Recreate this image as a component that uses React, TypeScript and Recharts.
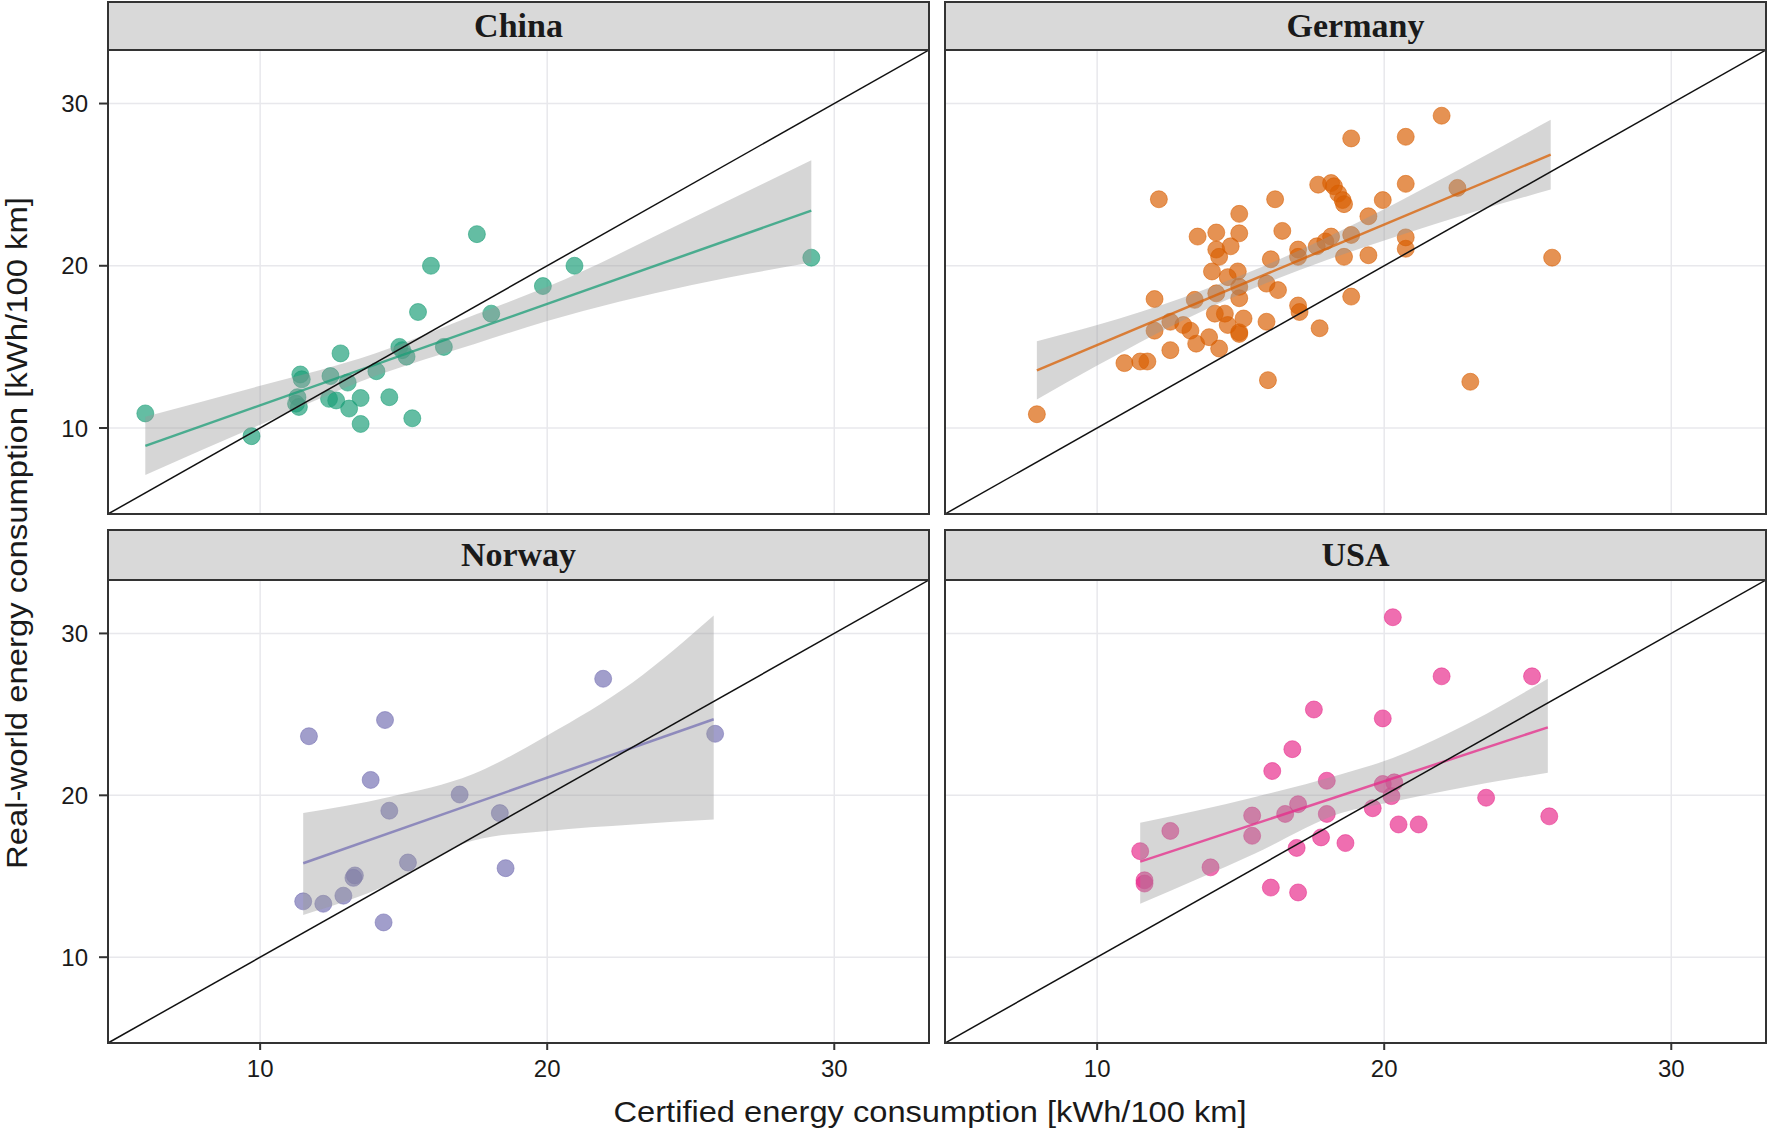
import React from "react";
import {
  ComposedChart,
  Scatter,
  Area,
  Line,
  XAxis,
  YAxis,
  CartesianGrid,
  ReferenceLine,
} from "recharts";

// axis range shared by all four facets (same on x and y)
const axisDomain: [number, number] = [4.7, 33.3];
const axisTicks = [10, 20, 30];

const countries = ["China", "Germany", "Norway", "USA"];
const countryColors = ["#1b9e77", "#d95f02", "#7570b3", "#e7298a"];

// [certified, real-world] kWh/100 km
const chinaPoints = [
  [6.0, 10.9], [9.7, 9.5], [11.4, 13.3], [11.45, 13.0], [11.3, 11.9], [11.25, 11.5],
  [11.35, 11.3], [12.45, 13.2], [12.8, 14.6], [13.05, 12.8], [12.4, 11.8], [12.65, 11.7],
  [13.1, 11.2], [13.5, 11.85], [13.5, 10.25], [14.05, 13.5], [14.5, 11.9], [15.3, 10.6],
  [14.85, 15.0], [14.95, 14.8], [15.1, 14.4], [15.5, 17.15], [15.95, 20.0], [16.4, 15.0],
  [17.55, 21.95], [18.05, 17.05], [19.85, 18.75], [20.95, 20.0], [29.2, 20.5],
];

const germanyPoints = [
  [7.9, 10.85], [12.15, 24.1], [10.95, 14.0], [11.5, 14.1], [11.75, 14.1], [12.0, 17.95],
  [12.0, 16.0], [12.55, 14.8], [12.55, 16.55], [13.0, 16.35], [13.4, 17.9], [13.5, 21.8],
  [13.45, 15.2], [13.25, 16.0], [13.9, 15.6], [14.0, 19.65], [14.15, 22.05], [14.15, 21.0],
  [14.25, 20.55], [14.25, 14.9], [14.1, 17.05], [14.15, 18.3], [14.45, 17.05], [14.55, 19.3],
  [14.65, 21.2], [14.95, 23.2], [14.95, 22.0], [14.9, 19.65], [14.95, 18.7], [14.95, 18.0],
  [14.55, 16.35], [14.95, 15.9], [15.1, 16.75], [14.95, 15.8], [15.9, 16.55], [15.9, 18.9],
  [16.05, 20.4], [16.2, 24.1], [15.95, 12.95], [16.3, 18.5], [16.45, 22.15], [17.0, 21.0],
  [17.0, 20.55], [17.0, 17.55], [17.05, 17.15], [17.75, 16.15], [17.7, 25.0], [18.15, 25.1],
  [18.25, 24.9], [18.4, 24.45], [18.55, 24.05], [18.6, 23.8], [17.95, 21.5], [18.15, 21.8],
  [17.65, 21.2], [18.6, 20.55], [18.85, 21.9], [18.85, 18.1], [18.85, 27.85], [19.45, 23.05],
  [19.45, 20.65], [19.95, 24.05], [20.75, 27.95], [20.75, 25.05], [20.75, 21.75], [20.75, 21.05],
  [22.0, 29.25], [22.55, 24.8], [23.0, 12.85], [25.85, 20.5],
];

const norwayPoints = [
  [11.7, 23.65], [14.35, 24.65], [13.85, 20.95], [14.5, 19.05], [16.95, 20.05], [18.35, 18.9],
  [18.55, 15.5], [15.15, 15.85], [13.25, 14.9], [13.3, 15.05], [12.9, 13.8], [12.2, 13.3],
  [11.5, 13.45], [14.3, 12.15], [21.95, 27.2], [25.85, 23.8],
];

const usaPoints = [
  [20.3, 31.0], [22.0, 27.35], [25.15, 27.35], [17.55, 25.3], [19.95, 24.75], [16.8, 22.85],
  [16.1, 21.5], [18.0, 20.9], [19.95, 20.7], [20.35, 20.8], [20.25, 19.95], [23.55, 19.85],
  [25.75, 18.7], [17.0, 19.45], [16.55, 18.85], [15.4, 18.75], [18.0, 18.85], [19.6, 19.2],
  [20.5, 18.2], [21.2, 18.2], [12.55, 17.8], [15.4, 17.5], [17.8, 17.4], [18.65, 17.05],
  [16.95, 16.75], [11.5, 16.55], [11.65, 14.75], [11.65, 14.55], [13.95, 15.55], [16.05, 14.3],
  [17.0, 14.0],
];

// linear fit end points and confidence band
const chinaBandX = [6.0, 10, 14, 17.5, 20, 25, 29.2];
const chinaBandLo = [7.1, 10.2, 13.2, 15.2, 16.6, 18.8, 20.2];
const chinaBandHi = [10.7, 12.6, 14.6, 17.0, 18.7, 22.9, 26.5];
const chinaFit = [8.9, 23.4];

const germanyBandX = [7.9, 10, 13, 15.5, 18, 20.5, 23, 25.8];
const germanyBandLo = [11.75, 13.85, 16.65, 18.65, 20.35, 21.85, 23.25, 24.7];
const germanyBandHi = [15.35, 16.35, 18.05, 19.75, 21.75, 23.95, 26.3, 29.0];
const germanyFit = [13.55, 26.85];

const norwayBandX = [11.5, 14.5, 17.4, 20, 23, 25.8];
const norwayBandLo = [12.6, 14.5, 17.2, 17.8, 18.2, 18.5];
const norwayBandHi = [18.9, 19.9, 21.3, 23.7, 27.0, 31.1];
const norwayFit = [15.8, 24.7];

const usaBandX = [11.5, 15.5, 18.5, 20.3, 22.2, 25.7];
const usaBandLo = [13.3, 16.4, 18.9, 19.6, 20.3, 21.4];
const usaBandHi = [18.3, 19.9, 21.3, 22.3, 23.8, 27.2];
const usaFit = [15.9, 24.2];

const SANS = "'Liberation Sans', Arial, sans-serif";
const SERIF = "'Liberation Serif', 'Times New Roman', serif";

const LEFT_X = 108;
const RIGHT_X = 945;
const PLOT_W = 821;
const AXIS_W = 108;
const TOP_Y = 50;
const TOP_H = 464;
const BOTTOM_Y = 580;
const BOTTOM_H = 463;
const X_AXIS_H = 70;

type PanelProps = {
  idx: number;
  points: number[][];
  bandX: number[];
  bandLo: number[];
  bandHi: number[];
  fit: number[];
  left: number;
  top: number;
  plotH: number;
  showX: boolean;
  showY: boolean;
};

function Panel({ idx, points, bandX, bandLo, bandHi, fit, left, top, plotH, showX, showY }: PanelProps) {
  const color = countryColors[idx];
  const scatterData = points.map(([x, y]) => ({ x, y }));
  const last = bandX.length - 1;
  const rows = bandX.map((x, i) => ({
    x,
    band: [bandLo[i], bandHi[i]],
    fit: i === 0 ? fit[0] : i === last ? fit[1] : null,
  }));
  const chartW = (showY ? AXIS_W : 0) + PLOT_W;
  const chartH = plotH + (showX ? X_AXIS_H : 0);
  const plotLeft = showY ? left + AXIS_W : left;
  const stripTop = top === TOP_Y ? 1 : 529;

  return (
    <>
      <div
        style={{
          position: "absolute",
          left: plotLeft - 1,
          top: stripTop,
          width: PLOT_W + 2,
          height: top + 1 - stripTop,
          boxSizing: "border-box",
          background: "#d9d9d9",
          border: "2px solid #333",
          fontFamily: SERIF,
          fontWeight: "bold",
          fontSize: 34,
          color: "#1a1a1a",
          display: "flex",
          alignItems: "center",
          justifyContent: "center",
        }}
      >
        {countries[idx]}
      </div>
      <div style={{ position: "absolute", left, top }}>
        <ComposedChart
          width={chartW}
          height={chartH}
          data={rows}
          margin={{ top: 0, right: 0, bottom: 0, left: 0 }}
        >
          <CartesianGrid stroke="#e8e8ec" strokeWidth={1.5} />
          <XAxis
            type="number"
            dataKey="x"
            domain={axisDomain}
            ticks={axisTicks}
            allowDataOverflow
            hide={!showX}
            height={X_AXIS_H}
            axisLine={false}
            tickSize={7}
            tickMargin={10}
            tickLine={{ stroke: "#333", strokeWidth: 2 }}
            tick={{ fontSize: 24, fontFamily: SANS, fill: "#1a1a1a" }}
          />
          <YAxis
            type="number"
            domain={axisDomain}
            ticks={axisTicks}
            allowDataOverflow
            hide={!showY}
            width={AXIS_W}
            axisLine={false}
            tickSize={9}
            tickMargin={11}
            tickLine={{ stroke: "#333", strokeWidth: 2 }}
            tick={{ fontSize: 24, fontFamily: SANS, fill: "#1a1a1a" }}
          />
          <Scatter
            data={scatterData}
            dataKey="y"
            isAnimationActive={false}
            zIndex={50}
            shape={(p: any) => (
              <circle
                cx={p.cx}
                cy={p.cy}
                r={8.5}
                fill={color}
                fillOpacity={0.68}
                stroke={color}
                strokeOpacity={0.55}
                strokeWidth={1}
              />
            )}
          />
          <Area
            dataKey="band"
            type="monotone"
            fill="#999999"
            fillOpacity={0.4}
            stroke="none"
            isAnimationActive={false}
            activeDot={false}
            zIndex={100}
          />
          <Line
            dataKey="fit"
            stroke={color}
            strokeOpacity={0.75}
            strokeWidth={2.5}
            dot={false}
            activeDot={false}
            connectNulls
            isAnimationActive={false}
            zIndex={400}
          />
          <ReferenceLine
            segment={[
              { x: axisDomain[0], y: axisDomain[0] },
              { x: axisDomain[1], y: axisDomain[1] },
            ]}
            stroke="#111"
            strokeWidth={1.5}
            zIndex={450}
          />
        </ComposedChart>
      </div>
      <div
        style={{
          position: "absolute",
          left: plotLeft - 1,
          top: top - 1,
          width: PLOT_W + 2,
          height: plotH + 2,
          boxSizing: "border-box",
          border: "2px solid #333",
          pointerEvents: "none",
        }}
      />
    </>
  );
}

export default function App() {
  return (
    <div
      style={{
        position: "absolute",
        left: 0,
        top: 0,
        width: 1769,
        height: 1132,
        background: "#fff",
        overflow: "hidden",
      }}
    >
      <Panel idx={0} points={chinaPoints} bandX={chinaBandX} bandLo={chinaBandLo} bandHi={chinaBandHi} fit={chinaFit}
        left={0} top={TOP_Y} plotH={TOP_H} showX={false} showY />
      <Panel idx={1} points={germanyPoints} bandX={germanyBandX} bandLo={germanyBandLo} bandHi={germanyBandHi} fit={germanyFit}
        left={RIGHT_X} top={TOP_Y} plotH={TOP_H} showX={false} showY={false} />
      <Panel idx={2} points={norwayPoints} bandX={norwayBandX} bandLo={norwayBandLo} bandHi={norwayBandHi} fit={norwayFit}
        left={0} top={BOTTOM_Y} plotH={BOTTOM_H} showX showY />
      <Panel idx={3} points={usaPoints} bandX={usaBandX} bandLo={usaBandLo} bandHi={usaBandHi} fit={usaFit}
        left={RIGHT_X} top={BOTTOM_Y} plotH={BOTTOM_H} showX showY={false} />
      <svg
        width={1769}
        height={1132}
        style={{ position: "absolute", left: 0, top: 0, pointerEvents: "none" }}
      >
        <text
          x={930}
          y={1122}
          textAnchor="middle"
          fontFamily={SANS}
          fontSize={30}
          fill="#1a1a1a"
          textLength={633}
          lengthAdjust="spacingAndGlyphs"
        >
          Certified energy consumption [kWh/100 km]
        </text>
        <text
          transform="translate(27,533) rotate(-90)"
          textAnchor="middle"
          fontFamily={SANS}
          fontSize={30}
          fill="#1a1a1a"
          textLength={672}
          lengthAdjust="spacingAndGlyphs"
        >
          Real-world energy consumption [kWh/100 km]
        </text>
      </svg>
    </div>
  );
}
